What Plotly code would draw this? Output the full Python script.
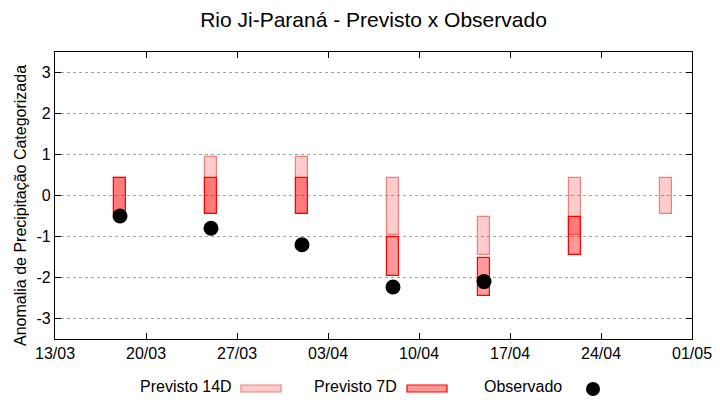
import plotly.graph_objects as go

# ---- data ----
dates = ["2023-03-18", "2023-03-25", "2023-04-01", "2023-04-08",
         "2023-04-15", "2023-04-22", "2023-04-29"]
p14_low = [-0.45, -0.45, -0.45, -0.96, -1.45, -0.96, -0.45]
p14_high = [0.43, 0.95, 0.95, 0.43, -0.52, 0.43, 0.43]
p7_dates = ["2023-03-18", "2023-03-25", "2023-04-01", "2023-04-08",
            "2023-04-15", "2023-04-22"]
p7_low = [-0.45, -0.45, -0.45, -1.96, -2.45, -1.45]
p7_high = [0.43, 0.43, 0.43, -1.0, -1.52, -0.52]
obs_dates = ["2023-03-18", "2023-03-25", "2023-04-01", "2023-04-08", "2023-04-15"]
obs_vals = [-0.5, -0.8, -1.2, -2.23, -2.1]
ytick_vals = [-3, -2, -1, 0, 1, 2, 3]
ytick_text = ["-3", "-2", "-1", "0", "1", "2", "3"]

title = "Rio Ji-Paraná - Previsto x Observado"
ylabel = "Anomalia de Precipitação Categorizada"
leg_names = ["Previsto 14D", "Previsto 7D", "Observado"]

FONT = "Liberation Sans, Arial, sans-serif"
DAY = 86400000
c14_fill, c14_line = "rgba(255,0,0,0.2)", "rgb(240,128,128)"
c7_fill, c7_line = "rgba(255,0,0,0.4)", "rgb(255,0,0)"

fig = go.Figure()
fig.add_trace(go.Bar(
    x=dates, y=[h - l for h, l in zip(p14_high, p14_low)], base=p14_low,
    width=0.92 * DAY, marker=dict(color=c14_fill, line=dict(color=c14_line, width=1.2)),
    name=leg_names[0], showlegend=False))
fig.add_trace(go.Bar(
    x=p7_dates, y=[h - l for h, l in zip(p7_high, p7_low)], base=p7_low,
    width=0.92 * DAY, marker=dict(color=c7_fill, line=dict(color=c7_line, width=1.2)),
    name=leg_names[1], showlegend=False))
fig.add_trace(go.Scatter(
    x=obs_dates, y=obs_vals, mode="markers",
    marker=dict(color="black", size=15, symbol="circle"),
    name=leg_names[2], showlegend=False))

W, H = 720, 400
L, R, T, B = 55, 28, 52, 61
pw, ph = W - L - R, H - T - B


def px(x):
    return (x - L) / pw


def py(y):
    return (H - B - y) / ph


# manual gnuplot-style legend (text, then sample)
ann = [
    dict(text=leg_names[0], x=px(234), y=py(386.5), xanchor="right", yanchor="middle"),
    dict(text=leg_names[1], x=px(399), y=py(386.5), xanchor="right", yanchor="middle"),
    dict(text=leg_names[2], x=px(564), y=py(386.5), xanchor="right", yanchor="middle"),
    dict(text=ylabel, x=px(20), y=py(206), xanchor="center", yanchor="middle", textangle=-90),
]
for a in ann:
    a.update(xref="paper", yref="paper", showarrow=False,
             font=dict(family=FONT, size=16, color="black"))

shapes = [
    dict(type="rect", xref="paper", yref="paper", x0=px(241), x1=px(281),
         y0=py(392), y1=py(385), fillcolor=c14_fill, line=dict(color=c14_line, width=1.2)),
    dict(type="rect", xref="paper", yref="paper", x0=px(407), x1=px(447),
         y0=py(392), y1=py(385), fillcolor=c7_fill, line=dict(color=c7_line, width=1.2)),
    dict(type="circle", xref="paper", yref="paper", xsizemode="pixel", ysizemode="pixel",
         xanchor=px(593), yanchor=py(389), x0=-7, x1=7, y0=-7, y1=7,
         fillcolor="black", line=dict(color="black", width=0)),
]

fig.update_layout(
    width=W, height=H, template="none",
    margin=dict(l=L, r=R, t=T, b=B, pad=0),
    paper_bgcolor="white", plot_bgcolor="white",
    barmode="overlay", bargap=0,
    font=dict(family=FONT, size=16, color="black"),
    title=dict(text=title, x=0.5, xref="paper", xanchor="center",
               y=1 - 20 / H, yref="container", yanchor="middle",
               font=dict(family=FONT, size=21, color="black")),
    annotations=ann, shapes=shapes, showlegend=False,
    xaxis=dict(type="date", range=["2023-03-13", "2023-05-01"],
               tick0="2023-03-13", dtick=7 * DAY, tickformat="%d/%m",
               ticks="inside", ticklen=6, tickcolor="black", tickwidth=1,
               showline=True, linecolor="black", linewidth=1.3, mirror="ticks",
               showgrid=False, zeroline=False, automargin=False,
               tickfont=dict(family=FONT, size=16, color="black")),
    yaxis=dict(range=[-3.5, 3.5], tickvals=ytick_vals, ticktext=ytick_text,
               ticks="inside", ticklen=6, tickcolor="black", tickwidth=1,
               showline=True, linecolor="black", linewidth=1.3, mirror="ticks",
               showgrid=True, gridcolor="#a0a0a0", griddash="3px,3px", gridwidth=1,
               zeroline=False, automargin=False,
               tickfont=dict(family=FONT, size=16, color="black")),
)

fig.write_html("out.html", config={"displayModeBar": False},
               post_script="document.body.style.margin='0';document.body.style.overflow='hidden';")
